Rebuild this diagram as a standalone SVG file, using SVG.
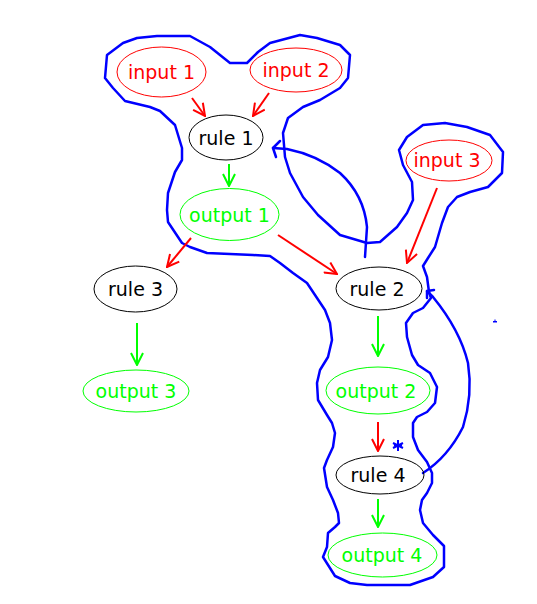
<svg xmlns="http://www.w3.org/2000/svg" width="537" height="604" viewBox="0 0 537 604">
<defs>
<style>
.n ellipse{fill:none;stroke-width:1}
.n text{font-family:"DejaVu Sans",sans-serif;font-size:19px;text-anchor:middle}
.red ellipse{stroke:#ff0000}.red text{fill:#ff0000}
.grn ellipse{stroke:#00ff00}.grn text{fill:#00ff00}
.blk ellipse{stroke:#000}.blk text{fill:#000}
.er{stroke:#ff0000;stroke-width:2;fill:none}
.eg{stroke:#00ff00;stroke-width:2;fill:none}
.bl{stroke:#0000ff;stroke-width:2.5;fill:none;stroke-linejoin:round;stroke-linecap:round}
</style>
<marker id="ar" viewBox="0 0 14 14" refX="13" refY="7" markerWidth="14" markerHeight="14" markerUnits="userSpaceOnUse" orient="auto"><path d="M1,1 L13,7 L1,13" fill="none" stroke="#ff0000" stroke-width="2"/></marker>
<marker id="ag" viewBox="0 0 14 14" refX="13" refY="7" markerWidth="14" markerHeight="14" markerUnits="userSpaceOnUse" orient="auto"><path d="M1,1 L13,7 L1,13" fill="none" stroke="#00ff00" stroke-width="2"/></marker>
</defs>
<rect width="537" height="604" fill="#fff"/>
<g id="outline">
<path class="bl" d="M182,148 L175,125 L160,111 L150,107 L125,101 L113,88 L105,78 L107,55 L123,43 L137,38 L157,36 L190,36 L210,47 L230,63 L247,63 L258,52 L270,43 L300,35 L317,38 L340,45 L350,55 L348,78 L340,88 L320,100 L303,107 L288,118 L283,133 L285,157 L290,173 L303,197 L318,215 L340,235 L367,243 L380,242 L397,227 L407,213 L413,200 L412,182 L403,165 L399,150 L407,137 L423,125 L445,123 L467,127 L490,135 L503,152 L502,173 L488,187 L470,192 L457,197 L448,207 L442,223 L435,247 L428,258 L423,266 L427,277 L429,292 L431,298 L423,308 L413,313 L406,323 L407,337 L412,355 L418,365 L430,373 L437,387 L435,403 L427,412 L417,417 L413,423 L413,437 L418,450 L427,462 L432,473 L432,483 L427,493 L422,500 L420,510 L423,523 L433,535 L444,546 L444,567 L433,577 L410,585 L367,585 L350,583 L335,576 L323,557 L327,547 L328,533 L335,527 L339,523 L338,513 L333,500 L327,487 L324,468 L327,460 L333,447 L335,433 L332,423 L327,415 L318,400 L317,383 L320,370 L328,357 L332,340 L330,323 L325,310 L315,295 L307,283 L293,273 L280,263 L270,256 L253,255 L207,253 L190,247 L182,243 L178,237 L168,222 L167,210 L168,193 L175,172 L182,160 Z"/>
</g>
<g id="connectors">
<line class="er" x1="192" y1="98" x2="205" y2="116" marker-end="url(#ar)"/>
<line class="er" x1="269" y1="93" x2="253" y2="116" marker-end="url(#ar)"/>
<line class="eg" x1="229" y1="164" x2="229" y2="186" marker-end="url(#ag)"/>
<line class="er" x1="191" y1="238" x2="167" y2="267" marker-end="url(#ar)"/>
<line class="er" x1="278" y1="235" x2="337" y2="274" marker-end="url(#ar)"/>
<line class="er" x1="437" y1="188" x2="407" y2="263" marker-end="url(#ar)"/>
<line class="eg" x1="137" y1="323" x2="137" y2="365" marker-end="url(#ag)"/>
<line class="eg" x1="378" y1="316" x2="378" y2="356" marker-end="url(#ag)"/>
<line class="er" x1="378" y1="422" x2="378" y2="451" marker-end="url(#ar)"/>
<line class="eg" x1="378" y1="499" x2="378" y2="527" marker-end="url(#ag)"/>
<path class="bl" d="M365,257 L367,227 Q364,195 340,173 Q317,155 287,149 L273,148"/>
<path class="bl" d="M280,141 L273,148 L276,157"/>
<path class="bl" d="M423,473 Q448,457 463,427 Q473,395 468,363 Q460,330 433,297 L427,291"/>
<path class="bl" d="M434,290 L427,291 L427,298"/>
</g>
<g id="marks">
<path d="M398,440 L398,451 M393,443 L403,448 M393,448 L403,443 M394,445 L402,445" stroke="#0000ff" stroke-width="2" fill="none"/>
<rect x="493" y="321" width="4" height="1.5" fill="#0000ff"/>
<rect x="494.5" y="319.5" width="1" height="1.5" fill="#0000ff"/>
</g>
<g id="input1" class="n red"><ellipse cx="161.5" cy="72" rx="44.5" ry="25"/><text x="161.5" y="78.5">input 1</text></g>
<g id="input2" class="n red"><ellipse cx="296" cy="70" rx="46" ry="22"/><text x="296" y="76.5">input 2</text></g>
<g id="rule1" class="n blk"><ellipse cx="226" cy="137.5" rx="37" ry="22.5"/><text x="226" y="144.5">rule 1</text></g>
<g id="output1" class="n grn"><ellipse cx="229.5" cy="214.5" rx="49.5" ry="26"/><text x="229.5" y="221.5">output 1</text></g>
<g id="input3" class="n red"><ellipse cx="449" cy="160.5" rx="43" ry="20.5"/><text x="447" y="167">input 3</text></g>
<g id="rule3" class="n blk"><ellipse cx="135.5" cy="289" rx="41.5" ry="23"/><text x="135.5" y="296">rule 3</text></g>
<g id="output3" class="n grn"><ellipse cx="136" cy="391" rx="53" ry="21"/><text x="136" y="398">output 3</text></g>
<g id="rule2" class="n blk"><ellipse cx="379" cy="288.5" rx="43" ry="21.5"/><text x="377" y="295.5">rule 2</text></g>
<g id="output2" class="n grn"><ellipse cx="378" cy="390.5" rx="52" ry="23.5"/><text x="376" y="397.5">output 2</text></g>
<g id="rule4" class="n blk"><ellipse cx="380" cy="475" rx="44" ry="19"/><text x="378" y="482">rule 4</text></g>
<g id="output4" class="n grn"><ellipse cx="382.5" cy="555" rx="54.5" ry="22"/><text x="382" y="562">output 4</text></g>
</svg>
